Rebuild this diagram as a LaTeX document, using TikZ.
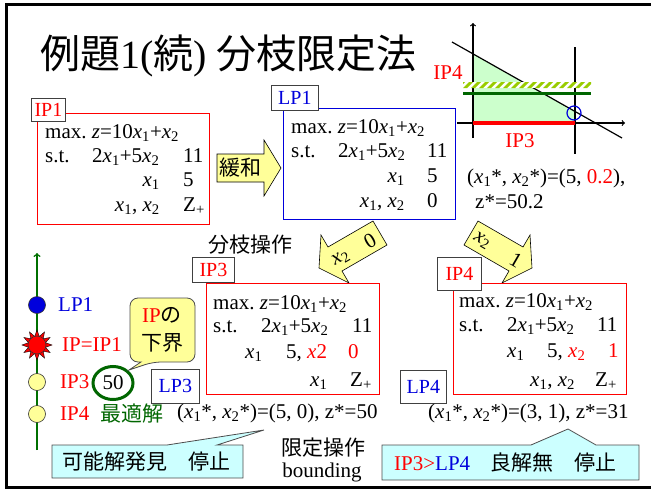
\documentclass[tikz,border=0pt]{standalone}
\usepackage{fontspec}
\setmainfont{Liberation Serif}
\newfontfamily\jp{Noto Sans CJK JP}
\usetikzlibrary{shapes.geometric}
\definecolor{ipred}{RGB}{255,0,0}
\definecolor{lpblue}{RGB}{0,0,220}
\definecolor{dkgreen}{RGB}{0,102,0}
\definecolor{treegreen}{RGB}{0,112,0}
\definecolor{paleyellow}{RGB}{255,255,153}
\definecolor{palecyan}{RGB}{204,255,255}
\definecolor{palegreen}{RGB}{204,255,204}
\definecolor{hatchgreen}{RGB}{153,204,0}
\newcommand{\xv}[1]{\textit{x}\textsubscript{#1}}
\tikzset{
	txt/.style={inner sep=0pt, font=\fontsize{21}{25}\selectfont},
	tagbox/.style={draw=black!75, fill=white, line width=0.8pt, inner sep=0pt, anchor=north west, font=\fontsize{20}{24}\selectfont},
	ipbox/.style={draw=ipred, line width=1pt, anchor=north west},
	lpbox/.style={draw=lpblue, line width=1pt, anchor=north west},
	yarrow/.style={draw=black, fill=paleyellow, line width=0.6pt},
	callout/.style={draw=black!70, fill=palecyan, line width=0.8pt},
	dot/.style={circle, draw=black!80, line width=0.6pt, minimum size=17pt, inner sep=0pt}
}

\begin{document}
\begin{tikzpicture}[x=1pt,y=-1pt]
			%%%%% START %%%%%
			\useasboundingbox (0,0) rectangle (651,490);
			\draw[line width=3pt] (660,4) -- (6,4) -- (6,487) -- (660,487);
			
			\node[anchor=base west, inner sep=0pt, font=\fontsize{40}{48}\selectfont] (title) at (40,68) {{\jp 例題}1({\jp 続}) {\jp 分枝限定法}};
			
			% IP1
			\node[ipbox, minimum width=172, minimum height=111] (ip1) at (37,113) {};
			\node[tagbox, minimum width=34, minimum height=23, text=ipred] (ip1tag) at (31,98) {IP1};
			\node[txt, anchor=base west] (ip1a) at (45,138) {max.\ \textit{z}=10\xv1+\xv2};
			\node[txt, anchor=base west] (ip1b) at (45,162) {s.t.};
			\node[txt, anchor=base west] (ip1c) at (92,162) {2\xv1+5\xv2};
			\node[txt, anchor=base west] (ip1d) at (183,162) {11};
			\node[txt, anchor=base east] (ip1e) at (160,186) {\xv1};
			\node[txt, anchor=base west] (ip1f) at (183,186) {5};
			\node[txt, anchor=base east] (ip1g) at (160,211) {\xv1, \xv2};
			\node[txt, anchor=base west] (ip1h) at (183,211) {Z\textsubscript{+}};
			
			% relax arrow
			\draw[yarrow] (217,154) -- (264,154) -- (264,140) -- (281,168) -- (264,196) -- (264,182) -- (217,182) -- cycle;
			\node[txt] (relax) at (240,168) {\jp 緩和};
			
			% LP1
			\node[lpbox, minimum width=172, minimum height=111] (lp1) at (283,108) {};
			\node[tagbox, minimum width=47, minimum height=25, text=lpblue] (lp1tag) at (271,85) {LP1};
			\node[txt, anchor=base west] (lp1a) at (291,133) {max.\ \textit{z}=10\xv1+\xv2};
			\node[txt, anchor=base west] (lp1b) at (291,157) {s.t.};
			\node[txt, anchor=base west] (lp1c) at (338,157) {2\xv1+5\xv2};
			\node[txt, anchor=base west] (lp1d) at (427,157) {11};
			\node[txt, anchor=base east] (lp1e) at (405,182) {\xv1};
			\node[txt, anchor=base west] (lp1f) at (427,182) {5};
			\node[txt, anchor=base east] (lp1g) at (405,207) {\xv1, \xv2};
			\node[txt, anchor=base west] (lp1h) at (427,207) {0};
			
			% graph
			\fill[palegreen] (473,54) -- (473,123) -- (575,123) -- (575,111.5) -- cycle;
			\draw[line width=1.2pt] (452,42) -- (622,138);
			\draw[line width=1.2pt, ->] (457,123) -- (625,123);
			\draw[line width=1.2pt, ->] (473,138) -- (473,23);
			\draw[line width=1.2pt] (575,47) -- (575,154);
			\begin{scope}
				\clip (463,82) rectangle (591,88);
				\fill[white] (463,82) rectangle (591,88);
				\foreach \i in {455,463,...,591}
					\fill[hatchgreen] (\i,88) -- (\i+4,88) -- (\i+10,82) -- (\i+6,82) -- cycle;
			\end{scope}
			\draw[dkgreen, line width=3pt] (463,93) -- (591,93);
			\draw[ipred, line width=4pt] (473,123) -- (575,123);
			\draw[lpblue, line width=1.2pt] (574,113) circle (7);
			\node[txt, text=ipred] (ip4lab) at (448,73) {IP4};
			\node[txt, text=ipred] (ip3lab) at (520,141) {IP3};
			\node[txt, anchor=west] (lp1opt) at (467,178) {(\xv1*, \xv2*)=(5, {\color{ipred}0.2}),};
			\node[txt, anchor=west] (lp1z) at (475,202) {z*=50.2};
			
			\node[txt] (branch) at (250,245) {\jp 分枝操作};
			
			% branch arrows
			\draw[yarrow] (373,221) -- (328,247) -- (321,235) -- (319,268) -- (349,283) -- (342,271) -- (387,245) -- cycle;
			\node[txt, rotate=30] (cut0x) at (341,258) {\xv2};
			\node[txt, rotate=30] (cut0v) at (370,241) {0};
			\draw[yarrow] (478,221) -- (523,247) -- (530,235) -- (532,268) -- (502,283) -- (509,271) -- (464,245) -- cycle;
			\node[txt, rotate=-30] (cut1x) at (482,241) {\xv2};
			\node[txt, rotate=-30] (cut1v) at (516,260) {1};
			
			% IP3
			\node[ipbox, minimum width=173, minimum height=111] (ip3) at (206,283) {};
			\node[tagbox, minimum width=42, minimum height=25, text=ipred] (ip3tag) at (192,257) {IP3};
			\node[txt, anchor=base west] (ip3a) at (213,309) {max.\ \textit{z}=10\xv1+\xv2};
			\node[txt, anchor=base west] (ip3b) at (213,332) {s.t.};
			\node[txt, anchor=base west] (ip3c) at (261,332) {2\xv1+5\xv2};
			\node[txt, anchor=base west] (ip3d) at (352,332) {11};
			\node[txt, anchor=base west] (ip3e) at (245,358) {\xv1};
			\node[txt, anchor=base west] (ip3f) at (286,358) {5, {\color{ipred}\textit{x}2}};
			\node[txt, anchor=base west, text=ipred] (ip3g) at (348,358) {0};
			\node[txt, anchor=base west] (ip3h) at (310,386) {\xv1};
			\node[txt, anchor=base west] (ip3i) at (350,386) {Z\textsubscript{+}};
			\node[tagbox, minimum width=48, minimum height=34, text=lpblue] (lp3tag) at (151,369) {LP3};
			
			% IP4
			\node[ipbox, minimum width=173, minimum height=111] (ip4) at (453,283) {};
			\node[tagbox, minimum width=44, minimum height=33, text=ipred] (ip4tag) at (437,257) {IP4};
			\node[txt, anchor=base west] (ip4a) at (459,307) {max.\ \textit{z}=10\xv1+\xv2};
			\node[txt, anchor=base west] (ip4b) at (459,331) {s.t.};
			\node[txt, anchor=base west] (ip4c) at (507,331) {2\xv1+5\xv2};
			\node[txt, anchor=base west] (ip4d) at (597,331) {11};
			\node[txt, anchor=base west] (ip4e) at (507,357) {\xv1};
			\node[txt, anchor=base west] (ip4f) at (547,357) {5, {\color{ipred}\xv2}};
			\node[txt, anchor=base west, text=ipred] (ip4g) at (608,357) {1};
			\node[txt, anchor=base west] (ip4h) at (530,386) {\xv1, \xv2};
			\node[txt, anchor=base west] (ip4i) at (595,386) {Z\textsubscript{+}};
			\node[tagbox, minimum width=46, minimum height=33, text=lpblue] (lp4tag) at (400,370) {LP4};
			
			% bound line
			\draw[treegreen, line width=1.5pt, ->] (37,450) -- (37,253);
			\node[dot, fill=lpblue] (lp1dot) at (37,305) {};
			\node[star, star points=12, star point ratio=1.7, minimum size=30pt, inner sep=0pt, fill=ipred, draw=black, line width=0.4pt] (ipstar) at (37,345) {};
			\node[dot, fill=ipred, minimum size=18pt] (ipdot) at (37,345) {};
			\node[dot, fill=paleyellow] (ip3dot) at (37,382) {};
			\node[dot, fill=paleyellow] (ip4dot) at (37,414) {};
			\node[txt, anchor=west, text=lpblue] (lp1name) at (58,305) {LP1};
			\node[txt, anchor=west, text=ipred] (ipname) at (62,345) {IP=IP1};
			\node[txt, anchor=west, text=ipred] (ip3name) at (60,382) {IP3};
			\node[txt, anchor=west, text=ipred] (ip4name) at (60,414) {IP4};
			\node[txt, anchor=west, text=dkgreen] (best) at (100,414) {\jp 最適解};
			\node[ellipse, draw=dkgreen, line width=3pt, minimum width=40pt, minimum height=33pt, inner sep=0pt, font=\fontsize{21}{25}\selectfont] (lowbd) at (113,383) {50};
			
			% lower bound callout
			\draw[draw=black!70, fill=paleyellow, line width=0.8pt, rounded corners=8pt] (130,298) -- (195,298) -- (195,362) -- (153,362) [sharp corners] -- (129,370) -- (141,362) [rounded corners=8pt] -- (130,362) -- cycle;
			\node[txt, align=center] (lowtxt) at (162,330) {{\color{ipred}IP}{\jp の}\\[3pt]{\jp 下界}};
			
			% results
			\node[txt, anchor=west] (ip3opt) at (177,413) {(\xv1*, \xv2*)=(5, 0), z*=50};
			\node[txt, anchor=west] (ip4opt) at (428,413) {(\xv1*, \xv2*)=(3, 1), z*=31};
			
			\draw[callout] (52,445) -- (167,445) -- (264,430) -- (217,445) -- (243,445) -- (243,478) -- (52,478) -- cycle;
			\node[txt, anchor=west] (stop1) at (62,462) {\jp 可能解発見　停止};
			
			\node[txt] (bound) at (323,448) {\jp 限定操作};
			\node[txt] (bounding) at (322,472) {bounding};
			
			\draw[callout] (382,445) -- (531,445) -- (568,429) -- (596,445) -- (639,445) -- (639,480) -- (382,480) -- cycle;
			\node[txt, anchor=west] (stop2) at (394,463) {{\color{ipred}IP3>}{\color{lpblue}LP4}\hspace{20pt}{\jp 良解無　停止}};
			%%%%% END %%%%%
\end{tikzpicture}
\end{document}
